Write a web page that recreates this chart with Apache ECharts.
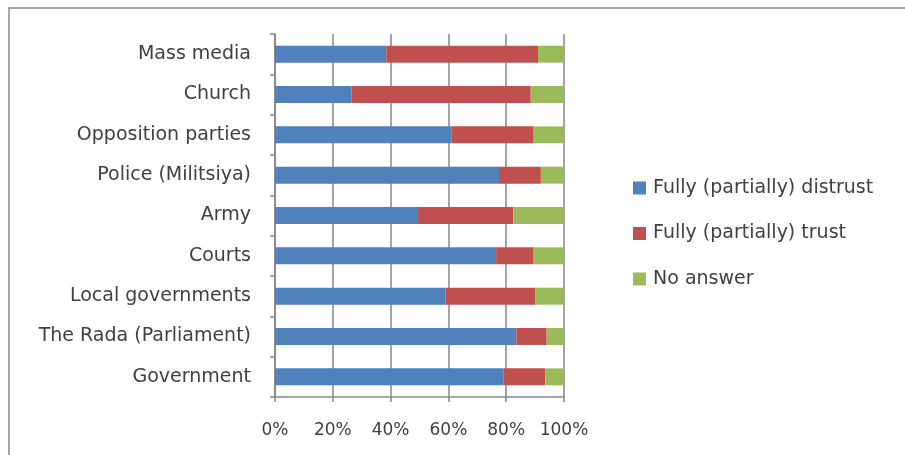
<!DOCTYPE html>
<html>
<head>
<meta charset="utf-8">
<script src="https://cdn.jsdelivr.net/npm/echarts@6/dist/echarts.min.js"></script>
<style>
html,body{margin:0;padding:0;background:#fff;overflow:hidden;}
#frame{position:absolute;left:8px;top:7px;width:1000px;height:500px;border-top:2px solid #a6a6a6;border-left:2px solid #a6a6a6;box-sizing:border-box;}
#chart{position:absolute;left:0;top:0;width:905px;height:455px;}
</style>
</head>
<body>
<div id="frame"></div>
<div id="chart"></div>
<script>
const categories = ["Government", "The Rada (Parliament)", "Local governments", "Courts", "Army", "Police (Militsiya)", "Opposition parties", "Church", "Mass media"];
const distrust = [79, 83.5, 59, 76.5, 49.5, 77.5, 61, 26.5, 38.5];
const trust    = [14.5, 10.5, 31, 13, 33, 14.5, 28.5, 62, 52.5];
const noAnswer = [6.5, 6, 10, 10.5, 17.5, 8, 10.5, 11.5, 9];
const xTicks = [0, 20, 40, 60, 80, 100];

const font = "DejaVu Sans";
const txt = "#404040";
const chart = echarts.init(document.getElementById('chart'));
chart.setOption({
  animation: false,
  textStyle: {fontFamily: font},
  grid: {left: 275, right: 341, top: 34, bottom: 58, containLabel: false},
  legend: {
    orient: 'vertical', left: 628, top: 173, itemWidth: 13, itemHeight: 13, itemGap: 25.5,
    icon: 'rect',
    textStyle: {fontFamily: font, fontSize: 19, lineHeight: 20, color: txt, padding: [0, 0, 0, 2]},
    data: ["Fully (partially) distrust", "Fully (partially) trust", "No answer"]
  },
  xAxis: {
    type: 'value', min: xTicks[0], max: xTicks[xTicks.length-1], interval: 20,
    axisLine: {show: true, lineStyle: {color: '#868686', width: 1.5}},
    axisTick: {show: true, length: 5, lineStyle: {color: '#868686', width: 1.5}},
    splitLine: {show: true, lineStyle: {color: '#868686', width: 1.5}},
    axisLabel: {formatter: '{value}%', fontFamily: font, fontSize: 17, color: txt, margin: 25}
  },
  yAxis: {
    type: 'category', data: categories,
    axisLine: {show: true, lineStyle: {color: '#868686', width: 1.5}},
    axisTick: {show: true, length: 5, lineStyle: {color: '#868686', width: 1.5}},
    axisLabel: {fontFamily: font, fontSize: 19, color: txt, margin: 24}
  },
  series: [
    {name: "Fully (partially) distrust", type: 'bar', stack: 'all', data: distrust, barWidth: '42%', itemStyle: {color: '#4F81BD'}},
    {name: "Fully (partially) trust", type: 'bar', stack: 'all', data: trust, barWidth: '42%', itemStyle: {color: '#C0504D'}},
    {name: "No answer", type: 'bar', stack: 'all', data: noAnswer, barWidth: '42%', itemStyle: {color: '#9BBB59'}}
  ]
});
</script>
</body>
</html>
